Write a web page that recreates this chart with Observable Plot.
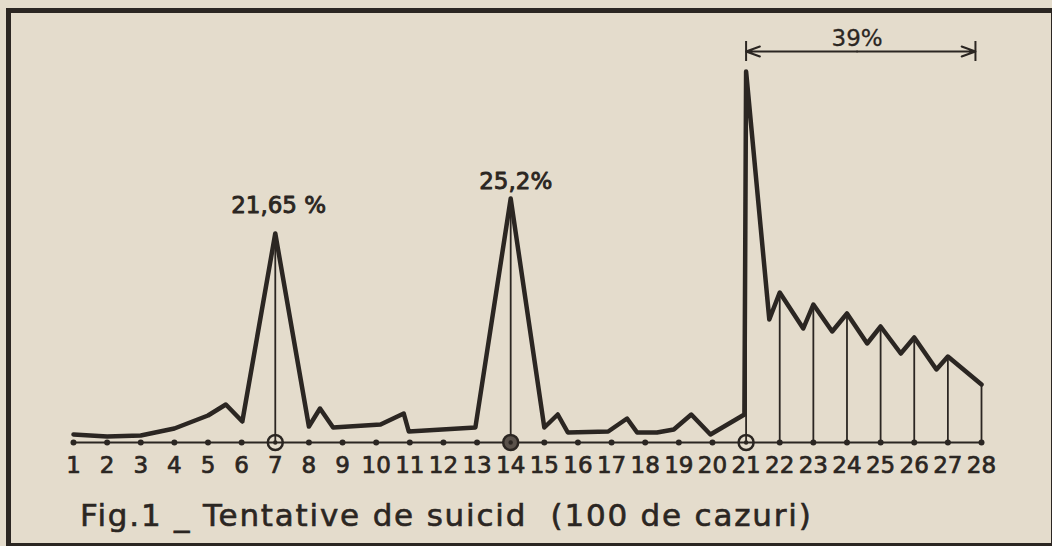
<!DOCTYPE html>
<html>
<head>
<meta charset="utf-8">
<script src="https://cdn.jsdelivr.net/npm/d3@7"></script>
<script src="https://cdn.jsdelivr.net/npm/@observablehq/plot@0.6"></script>
<style>
  html, body { margin: 0; padding: 0; background: #e4dccc; }
  #wrap { position: relative; width: 1052px; height: 546px; overflow: hidden; background: #e4dccc; }
  #frame { position: absolute; left: 6px; top: 8px; width: 1050px; height: 540px; border: 5px solid #2b2622; box-sizing: border-box; }
  #caption { position: absolute; left: 80px; top: 497px; font-family: "DejaVu Sans", sans-serif; font-size: 31px; color: #2b2622; letter-spacing: 1.8px; white-space: pre; -webkit-text-stroke: 0.6px #2b2622; }
  svg { position: absolute; left: 0; top: 0; }
</style>
</head>
<body>
<div id="wrap">
  <div id="chart"></div>
  <div id="frame"></div>
  <div id="caption">Fig.1 _ Tentative de suicid  (100 de cazuri)</div>
</div>
<script>
// Day of the cycle (x) and relative frequency (y)
const days = [1, 2, 3, 4, 5, 5.53, 6.02, 7, 8, 8.33, 8.72, 10.13, 10.82, 10.97, 12.95,
  14, 15, 15.4, 15.7, 16.9, 17.46, 17.76, 18.35, 18.85, 19.37, 19.94, 20.95,
  21, 21.69, 22, 22.7, 23, 23.56, 24, 24.6, 25, 25.6, 26, 26.66, 27, 28];
const values = [8, 6, 7, 14, 27, 38, 21, 209, 16, 34, 15, 18, 29, 11, 15,
  244, 15, 28, 10, 11, 24, 10, 10, 13, 28, 8, 28,
  371, 123, 150, 114, 138, 111, 129, 99, 116, 89, 105, 73, 86, 58];
const tickDays = d3.range(1, 29);
const tickLabels = tickDays.map(String);
const markedDays = [7, 14, 21];
const dropDays = [7, 14, 21, 22, 23, 24, 25, 26, 27, 28];
const peakLabels = [
  {day: 7.1, value: 237, text: "21,65 %"},
  {day: 14.15, value: 261, text: "25,2%"}
];
const spanLabel = {day: 24.3, value: 404, text: "39%"};
const spanFrom = 21, spanTo = 27.82, spanLevel = 391, spanMid = 24.3;

const ink = "#2b2622";
const series = days.map((d, i) => ({day: d, value: values[i]}));
const drops = series.filter(p => dropDays.includes(p.day));

const chart = Plot.plot({
  width: 1052,
  height: 490,
  marginLeft: 73,
  marginRight: 71,
  marginTop: 62,
  marginBottom: 48,
  x: {domain: [1, 28], axis: null},
  y: {domain: [0, 380], axis: null},
  style: {background: "transparent", fontFamily: "DejaVu Sans, sans-serif", color: ink},
  marks: [
    Plot.ruleY([0], {stroke: ink, strokeWidth: 2}),
    Plot.ruleX(drops, {x: "day", y1: 0, y2: "value", stroke: ink, strokeWidth: 1.8}),
    Plot.line(series, {x: "day", y: "value", stroke: ink, strokeWidth: 4.5, strokeLinejoin: "round"}),
    Plot.dot(tickDays.filter(d => !markedDays.includes(d)), {x: d => d, y: 0, r: 3, fill: ink}),
    Plot.dot(markedDays, {x: d => d, y: 0, r: 7.5, stroke: ink, strokeWidth: 2.5, fill: d => d === 14 ? "#5a524b" : "none"}),
    Plot.dot(markedDays, {x: d => d, y: 0, r: 2.2, fill: ink}),
    Plot.text(tickDays, {x: d => d, y: 0, text: (d, i) => tickLabels[i], dy: 23, fontSize: 23, fill: ink,
      stroke: ink, strokeWidth: 0.7}),
    Plot.text(peakLabels, {x: "day", y: "value", text: "text", fontSize: 23, fill: ink, stroke: ink, strokeWidth: 0.9}),
    Plot.text([spanLabel], {x: "day", y: "value", text: "text", fontSize: 23, fill: ink, stroke: ink, strokeWidth: 0.3}),
    Plot.arrow([{x1: spanMid, x2: spanFrom}, {x1: spanMid, x2: spanTo}], {
      x1: "x1", x2: "x2", y1: spanLevel, y2: spanLevel, stroke: ink, strokeWidth: 2, headLength: 11, headAngle: 40
    }),
    Plot.ruleX([spanFrom, spanTo], {x: d => d, y1: spanLevel - 10, y2: spanLevel + 10, stroke: ink, strokeWidth: 2})
  ]
});
document.getElementById("chart").appendChild(chart);
</script>
</body>
</html>
